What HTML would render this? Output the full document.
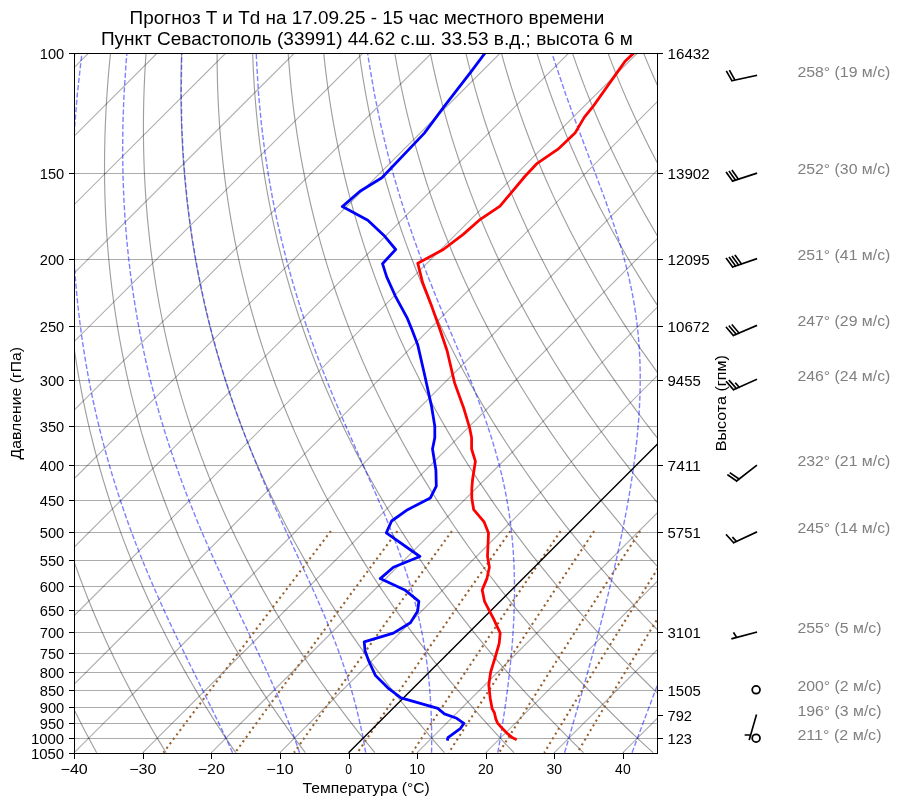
<!DOCTYPE html>
<html lang="ru"><head><meta charset="utf-8"><title>Skew-T</title>
<style>
html,body{margin:0;padding:0;background:#fff;}
body{width:900px;height:806px;overflow:hidden;font-family:"Liberation Sans",sans-serif;}
svg{display:block;font-family:"Liberation Sans",sans-serif;will-change:transform;}
</style></head><body>
<svg width="900" height="806" viewBox="0 0 900 806">
<rect x="0" y="0" width="900" height="806" fill="#fff"/>
<defs><clipPath id="ax"><rect x="74.5" y="53.5" width="583" height="700"/></clipPath></defs>
<g clip-path="url(#ax)">
<path d="M74.20,173.50 H657.20 M74.20,259.50 H657.20 M74.20,326.50 H657.20 M74.20,380.50 H657.20 M74.20,426.50 H657.20 M74.20,465.50 H657.20 M74.20,500.50 H657.20 M74.20,532.50 H657.20 M74.20,560.50 H657.20 M74.20,586.50 H657.20 M74.20,610.50 H657.20 M74.20,632.50 H657.20 M74.20,653.50 H657.20 M74.20,672.50 H657.20 M74.20,690.50 H657.20 M74.20,707.50 H657.20 M74.20,723.50 H657.20 M74.20,738.50 H657.20" stroke="#000" stroke-opacity="0.33" stroke-width="1" fill="none"/>
<path d="M-680.27,752.69 L20.35,52.77 M-611.68,752.69 L88.94,52.77 M-543.09,752.69 L157.53,52.77 M-474.51,752.69 L226.11,52.77 M-405.92,752.69 L294.70,52.77 M-337.33,752.69 L363.29,52.77 M-268.74,752.69 L431.88,52.77 M-200.15,752.69 L500.47,52.77 M-131.56,752.69 L569.06,52.77 M-62.98,752.69 L637.64,52.77 M5.61,752.69 L706.23,52.77 M74.20,752.69 L774.82,52.77 M142.79,752.69 L843.41,52.77 M211.38,752.69 L912.00,52.77 M279.96,752.69 L980.58,52.77 M417.14,752.69 L1117.76,52.77 M485.73,752.69 L1186.35,52.77 M554.32,752.69 L1254.94,52.77 M622.91,752.69 L1323.53,52.77 M691.49,752.69 L1392.11,52.77" stroke="#000" stroke-opacity="0.31" stroke-width="1.15" fill="none"/>
<path d="M96.65,752.69 L90.16,740.83 L83.89,728.96 L77.81,717.10 L71.95,705.24 L66.28,693.37 L60.81,681.51 L55.54,669.65 L50.46,657.79 L45.57,645.92 L40.88,634.06 L36.37,622.20 L32.04,610.33 L27.90,598.47 L23.94,586.61 L20.16,574.74 L16.56,562.88 L13.14,551.02 L9.88,539.16 L6.80,527.29 L3.89,515.43 L1.14,503.57 L-1.44,491.70 L-3.86,479.84 L-6.11,467.98 L-8.21,456.11 L-10.14,444.25 L-11.92,432.39 L-13.55,420.52 L-15.02,408.66 L-16.34,396.80 L-17.51,384.94 L-18.54,373.07 L-19.42,361.21 L-20.15,349.35 L-20.74,337.48 L-21.19,325.62 L-21.50,313.76 L-21.68,301.89 L-21.71,290.03 L-21.61,278.17 L-21.38,266.30 L-21.02,254.44 L-20.52,242.58 L-19.90,230.72 L-19.15,218.85 L-18.27,206.99 L-17.27,195.13 L-16.15,183.26 L-14.90,171.40 L-13.54,159.54 L-12.05,147.67 L-10.45,135.81 L-8.73,123.95 L-6.90,112.09 L-4.95,100.22 L-2.89,88.36 L-0.72,76.50 L1.56,64.63 L3.95,52.77 M166.20,752.69 L158.93,740.83 L151.87,728.96 L145.03,717.10 L138.40,705.24 L131.98,693.37 L125.77,681.51 L119.76,669.65 L113.95,657.79 L108.35,645.92 L102.94,634.06 L97.73,622.20 L92.71,610.33 L87.88,598.47 L83.25,586.61 L78.80,574.74 L74.53,562.88 L70.45,551.02 L66.54,539.16 L62.82,527.29 L59.27,515.43 L55.90,503.57 L52.70,491.70 L49.67,479.84 L46.81,467.98 L44.11,456.11 L41.59,444.25 L39.22,432.39 L37.02,420.52 L34.97,408.66 L33.08,396.80 L31.35,384.94 L29.77,373.07 L28.35,361.21 L27.07,349.35 L25.95,337.48 L24.97,325.62 L24.13,313.76 L23.45,301.89 L22.90,290.03 L22.49,278.17 L22.22,266.30 L22.09,254.44 L22.10,242.58 L22.24,230.72 L22.51,218.85 L22.92,206.99 L23.45,195.13 L24.12,183.26 L24.91,171.40 L25.82,159.54 L26.86,147.67 L28.02,135.81 L29.31,123.95 L30.71,112.09 L32.23,100.22 L33.87,88.36 L35.63,76.50 L37.50,64.63 L39.48,52.77 M235.75,752.69 L227.69,740.83 L219.86,728.96 L212.24,717.10 L204.85,705.24 L197.68,693.37 L190.73,681.51 L183.98,669.65 L177.45,657.79 L171.13,645.92 L165.01,634.06 L159.09,622.20 L153.38,610.33 L147.87,598.47 L142.55,586.61 L137.43,574.74 L132.50,562.88 L127.76,551.02 L123.20,539.16 L118.84,527.29 L114.66,515.43 L110.66,503.57 L106.84,491.70 L103.19,479.84 L99.73,467.98 L96.44,456.11 L93.31,444.25 L90.36,432.39 L87.58,420.52 L84.96,408.66 L82.51,396.80 L80.22,384.94 L78.08,373.07 L76.11,361.21 L74.30,349.35 L72.64,337.48 L71.13,325.62 L69.77,313.76 L68.57,301.89 L67.51,290.03 L66.60,278.17 L65.83,266.30 L65.21,254.44 L64.72,242.58 L64.38,230.72 L64.18,218.85 L64.11,206.99 L64.18,195.13 L64.38,183.26 L64.72,171.40 L65.18,159.54 L65.77,147.67 L66.50,135.81 L67.34,123.95 L68.32,112.09 L69.41,100.22 L70.63,88.36 L71.97,76.50 L73.43,64.63 L75.00,52.77 M305.30,752.69 L296.45,740.83 L287.84,728.96 L279.46,717.10 L271.31,705.24 L263.38,693.37 L255.68,681.51 L248.20,669.65 L240.94,657.79 L233.90,645.92 L227.07,634.06 L220.46,622.20 L214.05,610.33 L207.85,598.47 L201.85,586.61 L196.06,574.74 L190.46,562.88 L185.07,551.02 L179.87,539.16 L174.86,527.29 L170.04,515.43 L165.42,503.57 L160.98,491.70 L156.72,479.84 L152.65,467.98 L148.76,456.11 L145.04,444.25 L141.50,432.39 L138.14,420.52 L134.95,408.66 L131.93,396.80 L129.08,384.94 L126.40,373.07 L123.88,361.21 L121.52,349.35 L119.33,337.48 L117.29,325.62 L115.41,313.76 L113.69,301.89 L112.12,290.03 L110.70,278.17 L109.44,266.30 L108.32,254.44 L107.35,242.58 L106.52,230.72 L105.84,218.85 L105.30,206.99 L104.91,195.13 L104.65,183.26 L104.53,171.40 L104.54,159.54 L104.69,147.67 L104.97,135.81 L105.38,123.95 L105.92,112.09 L106.59,100.22 L107.39,88.36 L108.31,76.50 L109.36,64.63 L110.53,52.77 M374.85,752.69 L365.22,740.83 L355.83,728.96 L346.68,717.10 L337.76,705.24 L329.09,693.37 L320.64,681.51 L312.43,669.65 L304.44,657.79 L296.68,645.92 L289.14,634.06 L281.82,622.20 L274.72,610.33 L267.83,598.47 L261.15,586.61 L254.69,574.74 L248.43,562.88 L242.38,551.02 L236.53,539.16 L230.88,527.29 L225.43,515.43 L220.18,503.57 L215.12,491.70 L210.25,479.84 L205.57,467.98 L201.08,456.11 L196.77,444.25 L192.65,432.39 L188.71,420.52 L184.94,408.66 L181.36,396.80 L177.95,384.94 L174.71,373.07 L171.64,361.21 L168.75,349.35 L166.02,337.48 L163.45,325.62 L161.05,313.76 L158.81,301.89 L156.73,290.03 L154.81,278.17 L153.04,266.30 L151.43,254.44 L149.97,242.58 L148.67,230.72 L147.51,218.85 L146.50,206.99 L145.63,195.13 L144.91,183.26 L144.33,171.40 L143.90,159.54 L143.60,147.67 L143.44,135.81 L143.42,123.95 L143.53,112.09 L143.77,100.22 L144.15,88.36 L144.66,76.50 L145.29,64.63 L146.05,52.77 M444.40,752.69 L433.98,740.83 L423.81,728.96 L413.89,717.10 L404.22,705.24 L394.79,693.37 L385.60,681.51 L376.65,669.65 L367.94,657.79 L359.45,645.92 L351.20,634.06 L343.18,622.20 L335.38,610.33 L327.81,598.47 L320.45,586.61 L313.32,574.74 L306.40,562.88 L299.69,551.02 L293.19,539.16 L286.90,527.29 L280.82,515.43 L274.93,503.57 L269.25,491.70 L263.77,479.84 L258.49,467.98 L253.40,456.11 L248.50,444.25 L243.79,432.39 L239.27,420.52 L234.93,408.66 L230.78,396.80 L226.81,384.94 L223.02,373.07 L219.41,361.21 L215.97,349.35 L212.71,337.48 L209.61,325.62 L206.69,313.76 L203.93,301.89 L201.34,290.03 L198.91,278.17 L196.65,266.30 L194.54,254.44 L192.60,242.58 L190.81,230.72 L189.17,218.85 L187.69,206.99 L186.36,195.13 L185.18,183.26 L184.14,171.40 L183.26,159.54 L182.51,147.67 L181.91,135.81 L181.45,123.95 L181.14,112.09 L180.95,100.22 L180.91,88.36 L181.00,76.50 L181.22,64.63 L181.58,52.77 M513.95,752.69 L502.74,740.83 L491.80,728.96 L481.11,717.10 L470.67,705.24 L460.49,693.37 L450.56,681.51 L440.87,669.65 L431.43,657.79 L422.23,645.92 L413.27,634.06 L404.54,622.20 L396.05,610.33 L387.79,598.47 L379.76,586.61 L371.95,574.74 L364.36,562.88 L357.00,551.02 L349.85,539.16 L342.92,527.29 L336.20,515.43 L329.69,503.57 L323.39,491.70 L317.30,479.84 L311.41,467.98 L305.72,456.11 L300.23,444.25 L294.93,432.39 L289.83,420.52 L284.93,408.66 L280.21,396.80 L275.68,384.94 L271.33,373.07 L267.17,361.21 L263.19,349.35 L259.39,337.48 L255.77,325.62 L252.33,313.76 L249.05,301.89 L245.95,290.03 L243.02,278.17 L240.26,266.30 L237.66,254.44 L235.22,242.58 L232.95,230.72 L230.84,218.85 L228.88,206.99 L227.09,195.13 L225.44,183.26 L223.95,171.40 L222.62,159.54 L221.43,147.67 L220.39,135.81 L219.49,123.95 L218.74,112.09 L218.13,100.22 L217.67,88.36 L217.34,76.50 L217.15,64.63 L217.10,52.77 M583.51,752.69 L571.51,740.83 L559.78,728.96 L548.32,717.10 L537.13,705.24 L526.19,693.37 L515.52,681.51 L505.09,669.65 L494.93,657.79 L485.01,645.92 L475.34,634.06 L465.91,622.20 L456.72,610.33 L447.77,598.47 L439.06,586.61 L430.58,574.74 L422.33,562.88 L414.31,551.02 L406.51,539.16 L398.94,527.29 L391.59,515.43 L384.45,503.57 L377.53,491.70 L370.82,479.84 L364.33,467.98 L358.04,456.11 L351.96,444.25 L346.08,432.39 L340.40,420.52 L334.92,408.66 L329.63,396.80 L324.54,384.94 L319.65,373.07 L314.94,361.21 L310.42,349.35 L306.08,337.48 L301.93,325.62 L297.96,313.76 L294.18,301.89 L290.56,290.03 L287.13,278.17 L283.86,266.30 L280.77,254.44 L277.85,242.58 L275.09,230.72 L272.50,218.85 L270.08,206.99 L267.81,195.13 L265.71,183.26 L263.76,171.40 L261.97,159.54 L260.34,147.67 L258.86,135.81 L257.53,123.95 L256.35,112.09 L255.32,100.22 L254.43,88.36 L253.69,76.50 L253.09,64.63 L252.63,52.77 M653.06,752.69 L640.27,740.83 L627.77,728.96 L615.54,717.10 L603.58,705.24 L591.89,693.37 L580.47,681.51 L569.32,669.65 L558.42,657.79 L547.78,645.92 L537.40,634.06 L527.27,622.20 L517.39,610.33 L507.75,598.47 L498.36,586.61 L489.21,574.74 L480.30,562.88 L471.62,551.02 L463.18,539.16 L454.96,527.29 L446.97,515.43 L439.21,503.57 L431.67,491.70 L424.35,479.84 L417.25,467.98 L410.36,456.11 L403.68,444.25 L397.22,432.39 L390.96,420.52 L384.91,408.66 L379.06,396.80 L373.41,384.94 L367.96,373.07 L362.70,361.21 L357.64,349.35 L352.77,337.48 L348.10,325.62 L343.60,313.76 L339.30,301.89 L335.17,290.03 L331.23,278.17 L327.47,266.30 L323.88,254.44 L320.47,242.58 L317.23,230.72 L314.17,218.85 L311.27,206.99 L308.54,195.13 L305.97,183.26 L303.57,171.40 L301.33,159.54 L299.25,147.67 L297.33,135.81 L295.57,123.95 L293.95,112.09 L292.50,100.22 L291.19,88.36 L290.03,76.50 L289.02,64.63 L288.15,52.77 M722.61,752.69 L709.04,740.83 L695.75,728.96 L682.75,717.10 L670.03,705.24 L657.60,693.37 L645.43,681.51 L633.54,669.65 L621.92,657.79 L610.56,645.92 L599.47,634.06 L588.63,622.20 L578.06,610.33 L567.73,598.47 L557.66,586.61 L547.84,574.74 L538.26,562.88 L528.93,551.02 L519.84,539.16 L510.98,527.29 L502.36,515.43 L493.97,503.57 L485.81,491.70 L477.88,479.84 L470.17,467.98 L462.68,456.11 L455.41,444.25 L448.36,432.39 L441.52,420.52 L434.90,408.66 L428.48,396.80 L422.27,384.94 L416.27,373.07 L410.47,361.21 L404.87,349.35 L399.46,337.48 L394.26,325.62 L389.24,313.76 L384.42,301.89 L379.78,290.03 L375.34,278.17 L371.07,266.30 L367.00,254.44 L363.10,242.58 L359.38,230.72 L355.83,218.85 L352.46,206.99 L349.27,195.13 L346.24,183.26 L343.38,171.40 L340.69,159.54 L338.17,147.67 L335.80,135.81 L333.60,123.95 L331.56,112.09 L329.68,100.22 L327.95,88.36 L326.37,76.50 L324.95,64.63 L323.68,52.77 M792.16,752.69 L777.80,740.83 L763.74,728.96 L749.97,717.10 L736.49,705.24 L723.30,693.37 L710.39,681.51 L697.76,669.65 L685.41,657.79 L673.34,645.92 L661.53,634.06 L650.00,622.20 L638.72,610.33 L627.72,598.47 L616.97,586.61 L606.47,574.74 L596.23,562.88 L586.24,551.02 L576.50,539.16 L567.00,527.29 L557.74,515.43 L548.73,503.57 L539.95,491.70 L531.40,479.84 L523.09,467.98 L515.00,456.11 L507.14,444.25 L499.50,432.39 L492.09,420.52 L484.89,408.66 L477.91,396.80 L471.14,384.94 L464.58,373.07 L458.23,361.21 L452.09,349.35 L446.15,337.48 L440.42,325.62 L434.88,313.76 L429.54,301.89 L424.40,290.03 L419.44,278.17 L414.68,266.30 L410.11,254.44 L405.72,242.58 L401.52,230.72 L397.50,218.85 L393.66,206.99 L389.99,195.13 L386.51,183.26 L383.19,171.40 L380.05,159.54 L377.08,147.67 L374.28,135.81 L371.64,123.95 L369.17,112.09 L366.86,100.22 L364.71,88.36 L362.72,76.50 L360.88,64.63 L359.20,52.77 M861.71,752.69 L846.56,740.83 L831.72,728.96 L817.18,717.10 L802.94,705.24 L789.00,693.37 L775.35,681.51 L761.98,669.65 L748.91,657.79 L736.11,645.92 L723.60,634.06 L711.36,622.20 L699.39,610.33 L687.70,598.47 L676.27,586.61 L665.10,574.74 L654.20,562.88 L643.55,551.02 L633.16,539.16 L623.02,527.29 L613.13,515.43 L603.49,503.57 L594.09,491.70 L584.93,479.84 L576.01,467.98 L567.32,456.11 L558.87,444.25 L550.65,432.39 L542.65,420.52 L534.88,408.66 L527.33,396.80 L520.00,384.94 L512.89,373.07 L506.00,361.21 L499.32,349.35 L492.84,337.48 L486.58,325.62 L480.52,313.76 L474.66,301.89 L469.01,290.03 L463.55,278.17 L458.29,266.30 L453.22,254.44 L448.35,242.58 L443.66,230.72 L439.16,218.85 L434.85,206.99 L430.72,195.13 L426.77,183.26 L423.00,171.40 L419.41,159.54 L415.99,147.67 L412.75,135.81 L409.68,123.95 L406.77,112.09 L404.04,100.22 L401.47,88.36 L399.06,76.50 L396.81,64.63 L394.73,52.77 M931.26,752.69 L915.33,740.83 L899.71,728.96 L884.40,717.10 L869.40,705.24 L854.70,693.37 L840.31,681.51 L826.21,669.65 L812.40,657.79 L798.89,645.92 L785.66,634.06 L772.72,622.20 L760.06,610.33 L747.68,598.47 L735.57,586.61 L723.73,574.74 L712.17,562.88 L700.86,551.02 L689.82,539.16 L679.04,527.29 L668.52,515.43 L658.25,503.57 L648.23,491.70 L638.45,479.84 L628.93,467.98 L619.64,456.11 L610.60,444.25 L601.79,432.39 L593.21,420.52 L584.87,408.66 L576.76,396.80 L568.87,384.94 L561.21,373.07 L553.76,361.21 L546.54,349.35 L539.53,337.48 L532.74,325.62 L526.16,313.76 L519.78,301.89 L513.62,290.03 L507.65,278.17 L501.89,266.30 L496.33,254.44 L490.97,242.58 L485.80,230.72 L480.83,218.85 L476.04,206.99 L471.45,195.13 L467.04,183.26 L462.81,171.40 L458.77,159.54 L454.91,147.67 L451.22,135.81 L447.71,123.95 L444.38,112.09 L441.22,100.22 L438.23,88.36 L435.40,76.50 L432.75,64.63 L430.25,52.77 M1000.81,752.69 L984.09,740.83 L967.69,728.96 L951.61,717.10 L935.85,705.24 L920.40,693.37 L905.26,681.51 L890.43,669.65 L875.90,657.79 L861.67,645.92 L847.73,634.06 L834.08,622.20 L820.73,610.33 L807.66,598.47 L794.87,586.61 L782.36,574.74 L770.13,562.88 L758.17,551.02 L746.48,539.16 L735.06,527.29 L723.90,515.43 L713.00,503.57 L702.36,491.70 L691.98,479.84 L681.85,467.98 L671.96,456.11 L662.32,444.25 L652.93,432.39 L643.78,420.52 L634.86,408.66 L626.18,396.80 L617.74,384.94 L609.52,373.07 L601.53,361.21 L593.76,349.35 L586.22,337.48 L578.90,325.62 L571.80,313.76 L564.91,301.89 L558.23,290.03 L551.76,278.17 L545.50,266.30 L539.45,254.44 L533.59,242.58 L527.94,230.72 L522.49,218.85 L517.23,206.99 L512.17,195.13 L507.30,183.26 L502.62,171.40 L498.13,159.54 L493.82,147.67 L489.69,135.81 L485.75,123.95 L481.99,112.09 L478.40,100.22 L474.99,88.36 L471.75,76.50 L468.68,64.63 L465.78,52.77 M1070.36,752.69 L1052.85,740.83 L1035.68,728.96 L1018.83,717.10 L1002.31,705.24 L986.10,693.37 L970.22,681.51 L954.65,669.65 L939.39,657.79 L924.44,645.92 L909.79,634.06 L895.45,622.20 L881.40,610.33 L867.64,598.47 L854.17,586.61 L840.99,574.74 L828.10,562.88 L815.48,551.02 L803.15,539.16 L791.08,527.29 L779.29,515.43 L767.76,503.57 L756.50,491.70 L745.51,479.84 L734.77,467.98 L724.28,456.11 L714.05,444.25 L704.07,432.39 L694.34,420.52 L684.85,408.66 L675.61,396.80 L666.60,384.94 L657.83,373.07 L649.29,361.21 L640.99,349.35 L632.91,337.48 L625.06,325.62 L617.43,313.76 L610.03,301.89 L602.84,290.03 L595.87,278.17 L589.11,266.30 L582.56,254.44 L576.22,242.58 L570.09,230.72 L564.16,218.85 L558.43,206.99 L552.90,195.13 L547.57,183.26 L542.43,171.40 L537.49,159.54 L532.73,147.67 L528.17,135.81 L523.79,123.95 L519.59,112.09 L515.58,100.22 L511.75,88.36 L508.09,76.50 L504.61,64.63 L501.30,52.77 M1139.91,752.69 L1121.62,740.83 L1103.66,728.96 L1086.04,717.10 L1068.76,705.24 L1051.81,693.37 L1035.18,681.51 L1018.87,669.65 L1002.89,657.79 L987.22,645.92 L971.86,634.06 L956.81,622.20 L942.07,610.33 L927.62,598.47 L913.48,586.61 L899.63,574.74 L886.07,562.88 L872.79,551.02 L859.81,539.16 L847.10,527.29 L834.67,515.43 L822.52,503.57 L810.64,491.70 L799.03,479.84 L787.69,467.98 L776.60,456.11 L765.78,444.25 L755.22,432.39 L744.90,420.52 L734.84,408.66 L725.03,396.80 L715.47,384.94 L706.14,373.07 L697.06,361.21 L688.21,349.35 L679.60,337.48 L671.22,325.62 L663.07,313.76 L655.15,301.89 L647.45,290.03 L639.97,278.17 L632.71,266.30 L625.67,254.44 L618.84,242.58 L612.23,230.72 L605.82,218.85 L599.62,206.99 L593.63,195.13 L587.83,183.26 L582.24,171.40 L576.85,159.54 L571.65,147.67 L566.64,135.81 L561.82,123.95 L557.20,112.09 L552.76,100.22 L548.51,88.36 L544.43,76.50 L540.54,64.63 L536.83,52.77 M1209.46,752.69 L1190.38,740.83 L1171.65,728.96 L1153.26,717.10 L1135.21,705.24 L1117.51,693.37 L1100.14,681.51 L1083.10,669.65 L1066.38,657.79 L1050.00,645.92 L1033.93,634.06 L1018.17,622.20 L1002.73,610.33 L987.60,598.47 L972.78,586.61 L958.26,574.74 L944.03,562.88 L930.10,551.02 L916.47,539.16 L903.12,527.29 L890.06,515.43 L877.28,503.57 L864.78,491.70 L852.56,479.84 L840.61,467.98 L828.92,456.11 L817.51,444.25 L806.36,432.39 L795.47,420.52 L784.84,408.66 L774.46,396.80 L764.33,384.94 L754.46,373.07 L744.82,361.21 L735.44,349.35 L726.29,337.48 L717.38,325.62 L708.71,313.76 L700.27,301.89 L692.06,290.03 L684.08,278.17 L676.32,266.30 L668.78,254.44 L661.47,242.58 L654.37,230.72 L647.49,218.85 L640.81,206.99 L634.35,195.13 L628.10,183.26 L622.05,171.40 L616.20,159.54 L610.56,147.67 L605.11,135.81 L599.86,123.95 L594.81,112.09 L589.94,100.22 L585.26,88.36 L580.78,76.50 L576.47,64.63 L572.35,52.77 M1279.02,752.69 L1259.14,740.83 L1239.63,728.96 L1220.47,717.10 L1201.67,705.24 L1183.21,693.37 L1165.09,681.51 L1147.32,669.65 L1129.88,657.79 L1112.77,645.92 L1095.99,634.06 L1079.54,622.20 L1063.40,610.33 L1047.58,598.47 L1032.08,586.61 L1016.89,574.74 L1002.00,562.88 L987.42,551.02 L973.13,539.16 L959.14,527.29 L945.45,515.43 L932.04,503.57 L918.92,491.70 L906.08,479.84 L893.53,467.98 L881.24,456.11 L869.24,444.25 L857.50,432.39 L846.03,420.52 L834.83,408.66 L823.88,396.80 L813.20,384.94 L802.77,373.07 L792.59,361.21 L782.66,349.35 L772.98,337.48 L763.54,325.62 L754.35,313.76 L745.39,301.89 L736.67,290.03 L728.18,278.17 L719.93,266.30 L711.90,254.44 L704.09,242.58 L696.51,230.72 L689.15,218.85 L682.01,206.99 L675.08,195.13 L668.36,183.26 L661.86,171.40 L655.56,159.54 L649.47,147.67 L643.59,135.81 L637.90,123.95 L632.41,112.09 L627.12,100.22 L622.02,88.36 L617.12,76.50 L612.41,64.63 L607.88,52.77 M1348.57,752.69 L1327.91,740.83 L1307.62,728.96 L1287.69,717.10 L1268.12,705.24 L1248.91,693.37 L1230.05,681.51 L1211.54,669.65 L1193.37,657.79 L1175.55,645.92 L1158.06,634.06 L1140.90,622.20 L1124.07,610.33 L1107.57,598.47 L1091.38,586.61 L1075.52,574.74 L1059.97,562.88 L1044.73,551.02 L1029.79,539.16 L1015.16,527.29 L1000.83,515.43 L986.80,503.57 L973.06,491.70 L959.61,479.84 L946.45,467.98 L933.57,456.11 L920.97,444.25 L908.64,432.39 L896.60,420.52 L884.82,408.66 L873.31,396.80 L862.06,384.94 L851.08,373.07 L840.35,361.21 L829.89,349.35 L819.67,337.48 L809.71,325.62 L799.99,313.76 L790.51,301.89 L781.28,290.03 L772.29,278.17 L763.53,266.30 L755.01,254.44 L746.72,242.58 L738.65,230.72 L730.81,218.85 L723.20,206.99 L715.81,195.13 L708.63,183.26 L701.67,171.40 L694.92,159.54 L688.39,147.67 L682.06,135.81 L675.94,123.95 L670.02,112.09 L664.30,100.22 L658.78,88.36 L653.46,76.50 L648.34,64.63 L643.40,52.77 M1418.12,752.69 L1396.67,740.83 L1375.60,728.96 L1354.90,717.10 L1334.58,705.24 L1314.61,693.37 L1295.01,681.51 L1275.76,669.65 L1256.87,657.79 L1238.32,645.92 L1220.12,634.06 L1202.26,622.20 L1184.74,610.33 L1167.55,598.47 L1150.69,586.61 L1134.15,574.74 L1117.93,562.88 L1102.04,551.02 L1086.45,539.16 L1071.18,527.29 L1056.22,515.43 L1041.56,503.57 L1027.20,491.70 L1013.13,479.84 L999.36,467.98 L985.89,456.11 L972.69,444.25 L959.79,432.39 L947.16,420.52 L934.81,408.66 L922.73,396.80 L910.93,384.94 L899.39,373.07 L888.12,361.21 L877.11,349.35 L866.36,337.48 L855.87,325.62 L845.63,313.76 L835.64,301.89 L825.89,290.03 L816.39,278.17 L807.14,266.30 L798.12,254.44 L789.34,242.58 L780.79,230.72 L772.48,218.85 L764.39,206.99 L756.53,195.13 L748.89,183.26 L741.48,171.40 L734.28,159.54 L727.30,147.67 L720.53,135.81 L713.97,123.95 L707.62,112.09 L701.48,100.22 L695.54,88.36 L689.81,76.50 L684.27,64.63 L678.93,52.77 M1487.67,752.69 L1465.43,740.83 L1443.59,728.96 L1422.12,717.10 L1401.03,705.24 L1380.32,693.37 L1359.97,681.51 L1339.99,669.65 L1320.37,657.79 L1301.10,645.92 L1282.19,634.06 L1263.63,622.20 L1245.41,610.33 L1227.53,598.47 L1209.99,586.61 L1192.78,574.74 L1175.90,562.88 L1159.35,551.02 L1143.12,539.16 L1127.20,527.29 L1111.60,515.43 L1096.32,503.57 L1081.34,491.70 L1066.66,479.84 L1052.28,467.98 L1038.21,456.11 L1024.42,444.25 L1010.93,432.39 L997.72,420.52 L984.80,408.66 L972.16,396.80 L959.79,384.94 L947.70,373.07 L935.89,361.21 L924.34,349.35 L913.05,337.48 L902.03,325.62 L891.26,313.76 L880.76,301.89 L870.50,290.03 L860.50,278.17 L850.74,266.30 L841.23,254.44 L831.97,242.58 L822.94,230.72 L814.14,218.85 L805.59,206.99 L797.26,195.13 L789.16,183.26 L781.29,171.40 L773.64,159.54 L766.21,147.67 L759.00,135.81 L752.01,123.95 L745.23,112.09 L738.66,100.22 L732.30,88.36 L726.15,76.50 L720.20,64.63 L714.45,52.77 M1557.22,752.69 L1534.20,740.83 L1511.57,728.96 L1489.34,717.10 L1467.49,705.24 L1446.02,693.37 L1424.93,681.51 L1404.21,669.65 L1383.86,657.79 L1363.88,645.92 L1344.25,634.06 L1324.99,622.20 L1306.07,610.33 L1287.51,598.47 L1269.29,586.61 L1251.41,574.74 L1233.87,562.88 L1216.66,551.02 L1199.78,539.16 L1183.22,527.29 L1166.99,515.43 L1151.07,503.57 L1135.47,491.70 L1120.19,479.84 L1105.20,467.98 L1090.53,456.11 L1076.15,444.25 L1062.07,432.39 L1048.29,420.52 L1034.79,408.66 L1021.58,396.80 L1008.66,384.94 L996.02,373.07 L983.65,361.21 L971.56,349.35 L959.74,337.48 L948.19,325.62 L936.90,313.76 L925.88,301.89 L915.11,290.03 L904.61,278.17 L894.35,266.30 L884.35,254.44 L874.59,242.58 L865.08,230.72 L855.81,218.85 L846.78,206.99 L837.99,195.13 L829.43,183.26 L821.10,171.40 L813.00,159.54 L805.13,147.67 L797.48,135.81 L790.05,123.95 L782.84,112.09 L775.84,100.22 L769.06,88.36 L762.49,76.50 L756.13,64.63 L749.98,52.77 M1626.77,752.69 L1602.96,740.83 L1579.56,728.96 L1556.55,717.10 L1533.94,705.24 L1511.72,693.37 L1489.88,681.51 L1468.43,669.65 L1447.36,657.79 L1426.65,645.92 L1406.32,634.06 L1386.35,622.20 L1366.74,610.33 L1347.49,598.47 L1328.59,586.61 L1310.04,574.74 L1291.83,562.88 L1273.97,551.02 L1256.44,539.16 L1239.24,527.29 L1222.38,515.43 L1205.83,503.57 L1189.61,491.70 L1173.71,479.84 L1158.12,467.98 L1142.85,456.11 L1127.88,444.25 L1113.21,432.39 L1098.85,420.52 L1084.78,408.66 L1071.01,396.80 L1057.52,384.94 L1044.33,373.07 L1031.42,361.21 L1018.78,349.35 L1006.43,337.48 L994.35,325.62 L982.54,313.76 L971.00,301.89 L959.72,290.03 L948.71,278.17 L937.96,266.30 L927.46,254.44 L917.21,242.58 L907.22,230.72 L897.47,218.85 L887.97,206.99 L878.71,195.13 L869.69,183.26 L860.91,171.40 L852.36,159.54 L844.04,147.67 L835.95,135.81 L828.08,123.95 L820.44,112.09 L813.02,100.22 L805.82,88.36 L798.84,76.50 L792.07,64.63 L785.51,52.77 M1696.32,752.69 L1671.73,740.83 L1647.54,728.96 L1623.77,717.10 L1600.39,705.24 L1577.42,693.37 L1554.84,681.51 L1532.65,669.65 L1510.85,657.79 L1489.43,645.92 L1468.39,634.06 L1447.71,622.20 L1427.41,610.33 L1407.47,598.47 L1387.89,586.61 L1368.67,574.74 L1349.80,562.88 L1331.28,551.02 L1313.10,539.16 L1295.26,527.29 L1277.76,515.43 L1260.59,503.57 L1243.75,491.70 L1227.24,479.84 L1211.04,467.98 L1195.17,456.11 L1179.61,444.25 L1164.36,432.39 L1149.41,420.52 L1134.77,408.66 L1120.43,396.80 L1106.39,384.94 L1092.64,373.07 L1079.18,361.21 L1066.01,349.35 L1053.12,337.48 L1040.51,325.62 L1028.18,313.76 L1016.12,301.89 L1004.34,290.03 L992.82,278.17 L981.56,266.30 L970.57,254.44 L959.84,242.58 L949.36,230.72 L939.14,218.85 L929.16,206.99 L919.44,195.13 L909.96,183.26 L900.72,171.40 L891.72,159.54 L882.95,147.67 L874.42,135.81 L866.12,123.95 L858.05,112.09 L850.20,100.22 L842.58,88.36 L835.18,76.50 L828.00,64.63 L821.03,52.77 M1765.87,752.69 L1740.49,740.83 L1715.53,728.96 L1690.98,717.10 L1666.85,705.24 L1643.12,693.37 L1619.80,681.51 L1596.88,669.65 L1574.35,657.79 L1552.21,645.92 L1530.45,634.06 L1509.08,622.20 L1488.08,610.33 L1467.45,598.47 L1447.20,586.61 L1427.30,574.74 L1407.77,562.88 L1388.59,551.02 L1369.76,539.16 L1351.28,527.29 L1333.15,515.43 L1315.35,503.57 L1297.89,491.70 L1280.76,479.84 L1263.96,467.98 L1247.49,456.11 L1231.34,444.25 L1215.50,432.39 L1199.98,420.52 L1184.76,408.66 L1169.86,396.80 L1155.26,384.94 L1140.95,373.07 L1126.95,361.21 L1113.23,349.35 L1099.81,337.48 L1086.67,325.62 L1073.82,313.76 L1061.24,301.89 L1048.95,290.03 L1036.92,278.17 L1025.17,266.30 L1013.68,254.44 L1002.46,242.58 L991.50,230.72 L980.80,218.85 L970.36,206.99 L960.16,195.13 L950.22,183.26 L940.53,171.40 L931.07,159.54 L921.86,147.67 L912.89,135.81 L904.16,123.95 L895.66,112.09 L887.39,100.22 L879.34,88.36 L871.52,76.50 L863.93,64.63 L856.56,52.77 M1835.42,752.69 L1809.25,740.83 L1783.51,728.96 L1758.20,717.10 L1733.30,705.24 L1708.82,693.37 L1684.76,681.51 L1661.10,669.65 L1637.84,657.79 L1614.98,645.92 L1592.52,634.06 L1570.44,622.20 L1548.75,610.33 L1527.43,598.47 L1506.50,586.61 L1485.93,574.74 L1465.73,562.88 L1445.90,551.02 L1426.42,539.16 L1407.30,527.29 L1388.53,515.43 L1370.11,503.57 L1352.03,491.70 L1334.29,479.84 L1316.88,467.98 L1299.81,456.11 L1283.06,444.25 L1266.64,432.39 L1250.54,420.52 L1234.75,408.66 L1219.28,396.80 L1204.12,384.94 L1189.26,373.07 L1174.71,361.21 L1160.46,349.35 L1146.50,337.48 L1132.83,325.62 L1119.46,313.76 L1106.37,301.89 L1093.56,290.03 L1081.03,278.17 L1068.78,266.30 L1056.80,254.44 L1045.09,242.58 L1033.65,230.72 L1022.47,218.85 L1011.55,206.99 L1000.89,195.13 L990.49,183.26 L980.34,171.40 L970.43,159.54 L960.78,147.67 L951.37,135.81 L942.20,123.95 L933.26,112.09 L924.57,100.22 L916.10,88.36 L907.87,76.50 L899.86,64.63 L892.08,52.77 M1904.98,752.69 L1878.02,740.83 L1851.50,728.96 L1825.41,717.10 L1799.76,705.24 L1774.53,693.37 L1749.72,681.51 L1725.32,669.65 L1701.34,657.79 L1677.76,645.92 L1654.58,634.06 L1631.80,622.20 L1609.42,610.33 L1587.42,598.47 L1565.80,586.61 L1544.56,574.74 L1523.70,562.88 L1503.21,551.02 L1483.09,539.16 L1463.32,527.29 L1443.92,515.43 L1424.87,503.57 L1406.17,491.70 L1387.82,479.84 L1369.80,467.98 L1352.13,456.11 L1334.79,444.25 L1317.78,432.39 L1301.10,420.52 L1284.75,408.66 L1268.71,396.80 L1252.99,384.94 L1237.58,373.07 L1222.48,361.21 L1207.68,349.35 L1193.19,337.48 L1178.99,325.62 L1165.09,313.76 L1151.49,301.89 L1138.17,290.03 L1125.13,278.17 L1112.38,266.30 L1099.91,254.44 L1087.71,242.58 L1075.79,230.72 L1064.13,218.85 L1052.74,206.99 L1041.62,195.13 L1030.75,183.26 L1020.15,171.40 L1009.79,159.54 L999.69,147.67 L989.84,135.81 L980.23,123.95 L970.87,112.09 L961.75,100.22 L952.86,88.36 L944.21,76.50 L935.79,64.63 L927.61,52.77 M1974.53,752.69 L1946.78,740.83 L1919.48,728.96 L1892.63,717.10 L1866.21,705.24 L1840.23,693.37 L1814.67,681.51 L1789.54,669.65 L1764.83,657.79 L1740.54,645.92 L1716.65,634.06 L1693.17,622.20 L1670.08,610.33 L1647.40,598.47 L1625.10,586.61 L1603.19,574.74 L1581.67,562.88 L1560.52,551.02 L1539.75,539.16 L1519.34,527.29 L1499.30,515.43 L1479.63,503.57 L1460.31,491.70 L1441.34,479.84 L1422.72,467.98 L1404.45,456.11 L1386.52,444.25 L1368.93,432.39 L1351.67,420.52 L1334.74,408.66 L1318.13,396.80 L1301.85,384.94 L1285.89,373.07 L1270.24,361.21 L1254.91,349.35 L1239.88,337.48 L1225.15,325.62 L1210.73,313.76 L1196.61,301.89 L1182.78,290.03 L1169.24,278.17 L1155.99,266.30 L1143.02,254.44 L1130.34,242.58 L1117.93,230.72 L1105.80,218.85 L1093.94,206.99 L1082.34,195.13 L1071.02,183.26 L1059.96,171.40 L1049.15,159.54 L1038.60,147.67 L1028.31,135.81 L1018.27,123.95 L1008.48,112.09 L998.93,100.22 L989.62,88.36 L980.55,76.50 L971.73,64.63 L963.13,52.77 M2044.08,752.69 L2015.54,740.83 L1987.47,728.96 L1959.84,717.10 L1932.67,705.24 L1905.93,693.37 L1879.63,681.51 L1853.77,669.65 L1828.33,657.79 L1803.31,645.92 L1778.71,634.06 L1754.53,622.20 L1730.75,610.33 L1707.38,598.47 L1684.40,586.61 L1661.82,574.74 L1639.64,562.88 L1617.83,551.02 L1596.41,539.16 L1575.36,527.29 L1554.69,515.43 L1534.39,503.57 L1514.45,491.70 L1494.87,479.84 L1475.64,467.98 L1456.77,456.11 L1438.25,444.25 L1420.07,432.39 L1402.23,420.52 L1384.73,408.66 L1367.56,396.80 L1350.72,384.94 L1334.20,373.07 L1318.01,361.21 L1302.13,349.35 L1286.57,337.48 L1271.32,325.62 L1256.37,313.76 L1241.73,301.89 L1227.39,290.03 L1213.35,278.17 L1199.59,266.30 L1186.13,254.44 L1172.96,242.58 L1160.07,230.72 L1147.46,218.85 L1135.13,206.99 L1123.07,195.13 L1111.28,183.26 L1099.76,171.40 L1088.51,159.54 L1077.52,147.67 L1066.78,135.81 L1056.31,123.95 L1046.08,112.09 L1036.11,100.22 L1026.38,88.36 L1016.90,76.50 L1007.66,64.63 L998.66,52.77" stroke="#000" stroke-opacity="0.38" stroke-width="1.15" fill="none"/>
<path d="M232.60,752.69 L229.85,746.66 L227.01,740.51 L224.86,735.92 L223.15,732.30 L221.40,728.62 L219.62,724.91 L217.81,721.14 L215.97,717.33 L214.09,713.47 L212.18,709.55 L210.23,705.59 L208.26,701.57 L206.25,697.50 L204.21,693.36 L202.14,689.18 L200.04,684.93 L197.90,680.62 L195.74,676.25 L193.54,671.81 L191.32,667.30 L189.07,662.73 L186.79,658.08 L184.48,653.36 L182.15,648.57 L179.79,643.69 L177.41,638.74 L175.00,633.70 L172.57,628.57 L170.11,623.35 L167.64,618.05 L165.14,612.64 L162.63,607.13 L160.09,601.53 L157.54,595.81 L154.97,589.98 L152.39,584.03 L149.79,577.97 L147.18,571.78 L144.56,565.45 L141.93,558.99 L139.29,552.39 L136.64,545.63 L133.99,538.72 L131.33,531.64 L128.68,524.39 L126.02,516.97 L123.36,509.35 L120.70,501.53 L118.06,493.50 L115.42,485.24 L112.79,476.76 L110.18,468.02 L107.58,459.02 L105.01,449.73 L102.46,440.15 L99.94,430.25 L97.46,420.01 L95.02,409.41 L92.63,398.41 L90.29,386.99 L88.02,375.11 L85.83,362.74 L83.73,349.84 L81.72,336.35 L79.84,322.22 L78.09,307.38 L76.51,291.77 L75.11,275.29 L73.94,257.85 L73.03,239.32 L72.44,219.56 L72.24,198.39 L72.50,175.61 L73.33,150.93 L74.87,124.02 L77.31,94.44 L80.92,61.58 L82.04,52.77 M299.52,752.69 L297.49,746.66 L295.34,740.51 L293.69,735.92 L292.36,732.30 L290.98,728.62 L289.57,724.91 L288.11,721.14 L286.60,717.33 L285.06,713.47 L283.47,709.55 L281.83,705.59 L280.14,701.57 L278.41,697.50 L276.63,693.36 L274.80,689.18 L272.93,684.93 L271.00,680.62 L269.03,676.25 L267.01,671.81 L264.93,667.30 L262.81,662.73 L260.64,658.08 L258.42,653.36 L256.15,648.57 L253.83,643.69 L251.47,638.74 L249.05,633.70 L246.59,628.57 L244.08,623.35 L241.53,618.05 L238.94,612.64 L236.30,607.13 L233.61,601.53 L230.89,595.81 L228.13,589.98 L225.33,584.03 L222.49,577.97 L219.62,571.78 L216.72,565.45 L213.78,558.99 L210.82,552.39 L207.82,545.63 L204.81,538.72 L201.76,531.64 L198.70,524.39 L195.62,516.97 L192.52,509.35 L189.41,501.53 L186.28,493.50 L183.15,485.24 L180.01,476.76 L176.87,468.02 L173.72,459.02 L170.59,449.73 L167.46,440.15 L164.34,430.25 L161.24,420.01 L158.17,409.41 L155.12,398.41 L152.11,386.99 L149.15,375.11 L146.24,362.74 L143.39,349.84 L140.62,336.35 L137.94,322.22 L135.38,307.38 L132.94,291.77 L130.66,275.29 L128.57,257.85 L126.70,239.32 L125.10,219.56 L123.84,198.39 L122.98,175.61 L122.63,150.93 L122.91,124.02 L124.01,94.44 L126.17,61.58 L126.91,52.77 M365.66,752.69 L364.65,746.66 L363.53,740.51 L362.65,735.92 L361.93,732.30 L361.17,728.62 L360.37,724.91 L359.53,721.14 L358.64,717.33 L357.72,713.47 L356.75,709.55 L355.74,705.59 L354.68,701.57 L353.57,697.50 L352.40,693.36 L351.19,689.18 L349.92,684.93 L348.59,680.62 L347.21,676.25 L345.76,671.81 L344.25,667.30 L342.68,662.73 L341.05,658.08 L339.34,653.36 L337.57,648.57 L335.72,643.69 L333.81,638.74 L331.82,633.70 L329.75,628.57 L327.61,623.35 L325.39,618.05 L323.10,612.64 L320.72,607.13 L318.27,601.53 L315.74,595.81 L313.13,589.98 L310.44,584.03 L307.67,577.97 L304.83,571.78 L301.91,565.45 L298.92,558.99 L295.85,552.39 L292.71,545.63 L289.50,538.72 L286.23,531.64 L282.89,524.39 L279.50,516.97 L276.04,509.35 L272.54,501.53 L268.98,493.50 L265.37,485.24 L261.73,476.76 L258.04,468.02 L254.32,459.02 L250.57,449.73 L246.80,440.15 L243.01,430.25 L239.20,420.01 L235.39,409.41 L231.58,398.41 L227.77,386.99 L223.97,375.11 L220.20,362.74 L216.46,349.84 L212.76,336.35 L209.12,322.22 L205.56,307.38 L202.08,291.77 L198.72,275.29 L195.50,257.85 L192.45,239.32 L189.62,219.56 L187.06,198.39 L184.83,175.61 L183.04,150.93 L181.78,124.02 L181.23,94.44 L181.61,61.58 L181.88,52.77 M431.56,752.69 L431.65,746.66 L431.68,740.51 L431.67,735.92 L431.64,732.30 L431.59,728.62 L431.52,724.91 L431.43,721.14 L431.31,717.33 L431.17,713.47 L431.00,709.55 L430.80,705.59 L430.58,701.57 L430.32,697.50 L430.03,693.36 L429.70,689.18 L429.33,684.93 L428.93,680.62 L428.49,676.25 L428.00,671.81 L427.46,667.30 L426.88,662.73 L426.24,658.08 L425.55,653.36 L424.80,648.57 L423.98,643.69 L423.11,638.74 L422.16,633.70 L421.14,628.57 L420.05,623.35 L418.87,618.05 L417.62,612.64 L416.27,607.13 L414.83,601.53 L413.29,595.81 L411.64,589.98 L409.90,584.03 L408.04,577.97 L406.06,571.78 L403.96,565.45 L401.74,558.99 L399.39,552.39 L396.90,545.63 L394.29,538.72 L391.53,531.64 L388.63,524.39 L385.59,516.97 L382.41,509.35 L379.08,501.53 L375.62,493.50 L372.01,485.24 L368.27,476.76 L364.39,468.02 L360.39,459.02 L356.26,449.73 L352.02,440.15 L347.67,430.25 L343.22,420.01 L338.68,409.41 L334.06,398.41 L329.36,386.99 L324.61,375.11 L319.80,362.74 L314.96,349.84 L310.09,336.35 L305.22,322.22 L300.35,307.38 L295.51,291.77 L290.71,275.29 L285.98,257.85 L281.35,239.32 L276.86,219.56 L272.55,198.39 L268.48,175.61 L264.73,150.93 L261.39,124.02 L258.61,94.44 L256.58,61.58 L256.23,52.77 M497.78,752.69 L498.83,746.66 L499.88,740.51 L500.64,735.92 L501.23,732.30 L501.83,728.62 L502.41,724.91 L503.00,721.14 L503.58,717.33 L504.16,713.47 L504.74,709.55 L505.31,705.59 L505.87,701.57 L506.43,697.50 L506.98,693.36 L507.52,689.18 L508.05,684.93 L508.57,680.62 L509.08,676.25 L509.58,671.81 L510.07,667.30 L510.54,662.73 L511.00,658.08 L511.43,653.36 L511.85,648.57 L512.25,643.69 L512.62,638.74 L512.97,633.70 L513.29,628.57 L513.58,623.35 L513.83,618.05 L514.05,612.64 L514.23,607.13 L514.37,601.53 L514.46,595.81 L514.49,589.98 L514.47,584.03 L514.39,577.97 L514.23,571.78 L514.00,565.45 L513.69,558.99 L513.30,552.39 L512.80,545.63 L512.19,538.72 L511.47,531.64 L510.63,524.39 L509.64,516.97 L508.50,509.35 L507.20,501.53 L505.71,493.50 L504.04,485.24 L502.15,476.76 L500.04,468.02 L497.69,459.02 L495.08,449.73 L492.20,440.15 L489.03,430.25 L485.55,420.01 L481.77,409.41 L477.67,398.41 L473.25,386.99 L468.51,375.11 L463.45,362.74 L458.09,349.84 L452.45,336.35 L446.54,322.22 L440.39,307.38 L434.03,291.77 L427.50,275.29 L420.84,257.85 L414.07,239.32 L407.26,219.56 L400.44,198.39 L393.68,175.61 L387.03,150.93 L380.60,124.02 L374.50,94.44 L368.88,61.58 L367.58,52.77 M564.59,752.69 L566.37,746.66 L568.17,740.51 L569.51,735.92 L570.57,732.30 L571.64,728.62 L572.72,724.91 L573.81,721.14 L574.91,717.33 L576.02,713.47 L577.14,709.55 L578.28,705.59 L579.42,701.57 L580.58,697.50 L581.75,693.36 L582.94,689.18 L584.13,684.93 L585.34,680.62 L586.56,676.25 L587.79,671.81 L589.04,667.30 L590.29,662.73 L591.56,658.08 L592.85,653.36 L594.14,648.57 L595.45,643.69 L596.77,638.74 L598.10,633.70 L599.45,628.57 L600.81,623.35 L602.18,618.05 L603.56,612.64 L604.95,607.13 L606.36,601.53 L607.77,595.81 L609.20,589.98 L610.63,584.03 L612.08,577.97 L613.53,571.78 L614.98,565.45 L616.45,558.99 L617.91,552.39 L619.38,545.63 L620.85,538.72 L622.31,531.64 L623.76,524.39 L625.21,516.97 L626.65,509.35 L628.06,501.53 L629.45,493.50 L630.81,485.24 L632.13,476.76 L633.41,468.02 L634.63,459.02 L635.78,449.73 L636.84,440.15 L637.80,430.25 L638.64,420.01 L639.34,409.41 L639.85,398.41 L640.16,386.99 L640.22,375.11 L639.98,362.74 L639.39,349.84 L638.37,336.35 L636.86,322.22 L634.77,307.38 L631.99,291.77 L628.43,275.29 L623.99,257.85 L618.58,239.32 L612.14,219.56 L604.65,198.39 L596.13,175.61 L586.70,150.93 L576.50,124.02 L565.74,94.44 L554.66,61.58 L551.87,52.77 M632.02,752.69 L634.27,746.66 L636.57,740.51 L638.28,735.92 L639.64,732.30 L641.02,728.62 L642.41,724.91 L643.82,721.14 L645.26,717.33 L646.71,713.47 L648.18,709.55 L649.67,705.59 L651.19,701.57 L652.72,697.50 L654.28,693.36 L655.86,689.18 L657.47,684.93 L659.10,680.62 L660.75,676.25 L662.44,671.81 L664.14,667.30 L665.88,662.73 L667.64,658.08 L669.43,653.36 L671.25,648.57 L673.10,643.69 L674.98,638.74 L676.90,633.70 L678.85,628.57 L680.83,623.35 L682.85,618.05 L684.90,612.64 L687.00,607.13 L689.13,601.53 L691.30,595.81 L693.52,589.98 L695.78,584.03 L698.08,577.97 L700.44,571.78 L702.84,565.45 L705.29,558.99 L707.79,552.39 L710.35,545.63 L712.96,538.72 L715.63,531.64 L718.36,524.39 L721.16,516.97 L724.02,509.35 L726.95,501.53 L729.95,493.50 L733.03,485.24 L736.18,476.76 L739.42,468.02 L742.74,459.02 L746.15,449.73 L749.65,440.15 L753.24,430.25 L756.94,420.01 L760.74,409.41 L764.65,398.41 L768.66,386.99 L772.80,375.11 L777.05,362.74 L781.43,349.84 L785.93,336.35 L790.55,322.22 L795.29,307.38 L800.15,291.77 L805.11,275.29 L810.15,257.85 L815.25,239.32 L820.35,219.56 L825.38,198.39 L830.21,175.61 L834.67,150.93 L838.44,124.02 L841.07,94.44 L841.80,61.58 L841.56,52.77" stroke="#00f" stroke-opacity="0.5" stroke-width="1.39" stroke-dasharray="5.14 2.22" fill="none"/>
<path d="M330.88,531.09 L322.37,542.23 L314.17,552.96 L306.27,563.32 L298.65,573.33 L291.28,583.01 L284.15,592.39 L277.24,601.49 L270.55,610.31 L264.05,618.88 L257.74,627.21 L251.61,635.31 L245.64,643.20 L239.84,650.89 L234.18,658.38 L228.67,665.68 L223.29,672.82 L218.05,679.78 L212.92,686.59 L207.92,693.24 L203.03,699.75 L198.25,706.12 L193.57,712.35 L188.99,718.46 L184.50,724.45 L180.11,730.31 L175.80,736.07 L171.58,741.71 L167.44,747.25 L163.37,752.69 M397.37,531.09 L389.11,542.23 L381.16,552.96 L373.49,563.32 L366.09,573.33 L358.94,583.01 L352.02,592.39 L345.33,601.49 L338.83,610.31 L332.53,618.88 L326.42,627.21 L320.47,635.31 L314.69,643.20 L309.07,650.89 L303.59,658.38 L298.25,665.68 L293.04,672.82 L287.97,679.78 L283.01,686.59 L278.16,693.24 L273.43,699.75 L268.80,706.12 L264.27,712.35 L259.84,718.46 L255.50,724.45 L251.25,730.31 L247.08,736.07 L243.00,741.71 L239.00,747.25 L235.07,752.69 M451.86,531.09 L443.81,542.23 L436.06,552.96 L428.59,563.32 L421.38,573.33 L414.42,583.01 L407.69,592.39 L401.17,601.49 L394.85,610.31 L388.72,618.88 L382.77,627.21 L376.99,635.31 L371.36,643.20 L365.89,650.89 L360.56,658.38 L355.37,665.68 L350.31,672.82 L345.38,679.78 L340.56,686.59 L335.85,693.24 L331.25,699.75 L326.75,706.12 L322.35,712.35 L318.05,718.46 L313.83,724.45 L309.71,730.31 L305.66,736.07 L301.70,741.71 L297.81,747.25 L294.00,752.69 M510.31,531.09 L502.50,542.23 L494.98,552.96 L487.73,563.32 L480.74,573.33 L473.99,583.01 L467.46,592.39 L461.13,601.49 L455.01,610.31 L449.07,618.88 L443.30,627.21 L437.70,635.31 L432.25,643.20 L426.96,650.89 L421.80,658.38 L416.77,665.68 L411.87,672.82 L407.09,679.78 L402.43,686.59 L397.87,693.24 L393.42,699.75 L389.07,706.12 L384.82,712.35 L380.66,718.46 L376.58,724.45 L372.60,730.31 L368.69,736.07 L364.86,741.71 L361.10,747.25 L357.42,752.69 M560.62,531.09 L553.01,542.23 L545.69,552.96 L538.64,563.32 L531.84,573.33 L525.28,583.01 L518.93,592.39 L512.78,601.49 L506.83,610.31 L501.06,618.88 L495.46,627.21 L490.01,635.31 L484.73,643.20 L479.58,650.89 L474.57,658.38 L469.69,665.68 L464.94,672.82 L460.30,679.78 L455.78,686.59 L451.36,693.24 L447.04,699.75 L442.83,706.12 L438.70,712.35 L434.67,718.46 L430.72,724.45 L426.85,730.31 L423.06,736.07 L419.35,741.71 L415.71,747.25 L412.15,752.69 M594.18,531.09 L586.72,542.23 L579.54,552.96 L572.63,563.32 L565.96,573.33 L559.52,583.01 L553.30,592.39 L547.27,601.49 L541.44,610.31 L535.78,618.88 L530.29,627.21 L524.96,635.31 L519.78,643.20 L514.74,650.89 L509.83,658.38 L505.06,665.68 L500.40,672.82 L495.86,679.78 L491.43,686.59 L487.11,693.24 L482.88,699.75 L478.75,706.12 L474.72,712.35 L470.77,718.46 L466.91,724.45 L463.13,730.31 L459.42,736.07 L455.79,741.71 L452.23,747.25 L448.75,752.69 M640.22,531.09 L632.96,542.23 L625.97,552.96 L619.25,563.32 L612.76,573.33 L606.50,583.01 L600.45,592.39 L594.60,601.49 L588.93,610.31 L583.44,618.88 L578.11,627.21 L572.93,635.31 L567.90,643.20 L563.01,650.89 L558.25,658.38 L553.61,665.68 L549.10,672.82 L544.69,679.78 L540.40,686.59 L536.21,693.24 L532.11,699.75 L528.11,706.12 L524.20,712.35 L520.37,718.46 L516.63,724.45 L512.97,730.31 L509.38,736.07 L505.87,741.71 L502.42,747.25 L499.05,752.69 M681.53,531.09 L674.45,542.23 L667.65,552.96 L661.10,563.32 L654.78,573.33 L648.69,583.01 L642.80,592.39 L637.10,601.49 L631.58,610.31 L626.24,618.88 L621.05,627.21 L616.02,635.31 L611.13,643.20 L606.37,650.89 L601.75,658.38 L597.24,665.68 L592.86,672.82 L588.58,679.78 L584.41,686.59 L580.34,693.24 L576.36,699.75 L572.48,706.12 L568.68,712.35 L564.97,718.46 L561.34,724.45 L557.78,730.31 L554.31,736.07 L550.90,741.71 L547.56,747.25 L544.28,752.69 M711.66,531.09 L704.72,542.23 L698.05,552.96 L691.63,563.32 L685.44,573.33 L679.47,583.01 L673.70,592.39 L668.12,601.49 L662.72,610.31 L657.48,618.88 L652.41,627.21 L647.48,635.31 L642.69,643.20 L638.04,650.89 L633.51,658.38 L629.11,665.68 L624.81,672.82 L620.63,679.78 L616.55,686.59 L612.57,693.24 L608.68,699.75 L604.89,706.12 L601.18,712.35 L597.55,718.46 L594.00,724.45 L590.53,730.31 L587.13,736.07 L583.80,741.71 L580.54,747.25 L577.34,752.69" stroke="#97602f" stroke-width="2.08" stroke-dasharray="2.08 3.44" fill="none"/>
<path d="M348.55,752.69 L1049.17,52.77" stroke="#000" stroke-width="1.39" fill="none"/>
<path d="M633.60,53.20 L625.10,61.30 L615.60,74.60 L592.90,106.70 L584.40,117.10 L575.00,133.10 L558.00,149.20 L537.20,163.30 L525.00,176.25 L500.00,206.10 L479.20,220.20 L463.20,234.40 L443.30,249.50 L417.80,263.30 L422.60,282.60 L432.00,307.10 L440.10,330.00 L447.10,350.80 L454.60,382.90 L464.10,409.30 L469.70,428.20 L471.60,437.70 L471.60,449.00 L475.40,461.30 L472.60,479.20 L471.80,488.90 L471.80,498.30 L473.70,509.70 L484.10,521.90 L488.50,532.90 L487.50,556.50 L489.40,567.30 L486.90,578.60 L482.20,589.90 L484.50,601.30 L493.60,618.90 L500.20,633.10 L499.20,643.40 L495.00,658.00 L490.70,671.80 L488.80,685.00 L490.20,698.20 L492.20,708.90 L494.40,712.80 L495.80,718.90 L497.60,723.10 L502.20,728.30 L507.80,733.90 L512.20,737.60 L516.70,739.70" stroke="#f00" stroke-width="2.78" stroke-linejoin="round" fill="none"/>
<path d="M484.90,53.20 L471.70,70.80 L443.30,107.60 L424.40,133.10 L381.90,177.80 L360.00,191.25 L342.30,206.60 L367.80,220.20 L384.80,236.30 L395.70,249.50 L382.50,263.70 L386.70,276.90 L395.20,295.80 L407.40,318.40 L412.10,330.00 L417.80,345.10 L424.70,375.30 L431.40,405.60 L434.80,426.30 L434.80,437.70 L432.50,449.00 L435.90,470.00 L436.30,486.10 L430.30,498.00 L407.60,509.70 L391.60,521.00 L386.30,532.90 L419.90,556.50 L393.40,567.30 L380.20,578.60 L404.80,589.90 L418.90,601.30 L417.60,611.30 L410.40,622.70 L393.40,633.10 L364.20,641.90 L365.10,651.00 L368.75,661.00 L375.50,675.60 L387.80,687.80 L401.00,697.80 L437.80,708.40 L444.40,713.90 L456.70,718.30 L463.90,723.40 L460.60,728.30 L447.90,737.70 L447.30,740.60" stroke="#00f" stroke-width="2.78" stroke-linejoin="round" fill="none"/>
</g>
<rect x="74.5" y="53.5" width="583.00" height="700.00" fill="none" stroke="#000" stroke-width="1"/><path d="M69.00,53.50 H74.20 M69.00,173.50 H74.20 M69.00,259.50 H74.20 M69.00,326.50 H74.20 M69.00,380.50 H74.20 M69.00,426.50 H74.20 M69.00,465.50 H74.20 M69.00,500.50 H74.20 M69.00,532.50 H74.20 M69.00,560.50 H74.20 M69.00,586.50 H74.20 M69.00,610.50 H74.20 M69.00,632.50 H74.20 M69.00,653.50 H74.20 M69.00,672.50 H74.20 M69.00,690.50 H74.20 M69.00,707.50 H74.20 M69.00,723.50 H74.20 M69.00,738.50 H74.20 M69.00,753.50 H74.20 M74.50,752.69 V759.00 M143.50,752.69 V759.00 M211.50,752.69 V759.00 M280.50,752.69 V759.00 M349.50,752.69 V759.00 M417.50,752.69 V759.00 M486.50,752.69 V759.00 M554.50,752.69 V759.00 M623.50,752.69 V759.00 M657.20,53.50 H663.00 M657.20,173.50 H663.00 M657.20,259.50 H663.00 M657.20,326.50 H663.00 M657.20,380.50 H663.00 M657.20,465.50 H663.00 M657.20,532.50 H663.00 M657.20,632.50 H663.00 M657.20,690.50 H663.00 M657.20,715.50 H663.00 M657.20,738.50 H663.00" stroke="#000" stroke-width="1" fill="none"/>
<path d="M756.30,75.50 L731.85,80.70 M731.85,80.70 L726.71,71.57 M734.90,80.05 L729.77,70.92 M756.30,173.40 L732.52,181.13 M732.52,181.13 L726.46,172.58 M735.50,180.16 L729.43,171.61 M738.47,179.19 L732.41,170.65 M756.30,258.90 L732.66,267.04 M732.66,267.04 L726.45,258.60 M735.62,266.02 L729.41,257.58 M738.57,265.00 L732.36,256.57 M741.53,263.99 L735.32,255.55 M756.30,325.70 L733.29,335.47 M733.29,335.47 L726.50,327.48 M736.16,334.25 L729.38,326.26 M739.04,333.03 L732.26,325.04 M756.30,379.60 L733.46,389.77 M733.46,389.77 L726.54,381.90 M736.32,388.50 L729.39,380.63 M739.17,387.23 L735.71,383.29 M756.30,465.60 L736.60,480.99 M736.60,480.99 L727.98,475.04 M739.06,479.07 L730.44,473.11 M756.30,532.20 L733.64,542.77 M733.64,542.77 L726.58,535.02 M736.47,541.44 L732.95,537.57 M756.30,632.20 L732.15,638.67 M736.68,637.46 L733.88,633.03 M756.30,715.30 L749.41,739.33 M750.70,734.83 L745.46,734.95" stroke="#000" stroke-width="1.65" stroke-linecap="square" fill="none" stroke-linejoin="miter"/><g stroke="#000" stroke-width="1.75" fill="none"><circle cx="756.10" cy="689.80" r="3.9"/><circle cx="756.10" cy="738.20" r="3.9"/></g>
<g>
<text x="64.18" y="59.00" font-size="14.2" text-anchor="end" textLength="24.43" lengthAdjust="spacingAndGlyphs" fill="#000">100</text>
<text x="64.18" y="179.00" font-size="14.2" text-anchor="end" textLength="24.43" lengthAdjust="spacingAndGlyphs" fill="#000">150</text>
<text x="64.18" y="265.00" font-size="14.2" text-anchor="end" textLength="24.43" lengthAdjust="spacingAndGlyphs" fill="#000">200</text>
<text x="64.18" y="332.00" font-size="14.2" text-anchor="end" textLength="24.43" lengthAdjust="spacingAndGlyphs" fill="#000">250</text>
<text x="64.18" y="386.00" font-size="14.2" text-anchor="end" textLength="24.43" lengthAdjust="spacingAndGlyphs" fill="#000">300</text>
<text x="64.18" y="432.00" font-size="14.2" text-anchor="end" textLength="24.43" lengthAdjust="spacingAndGlyphs" fill="#000">350</text>
<text x="64.18" y="471.00" font-size="14.2" text-anchor="end" textLength="24.43" lengthAdjust="spacingAndGlyphs" fill="#000">400</text>
<text x="64.18" y="506.00" font-size="14.2" text-anchor="end" textLength="24.43" lengthAdjust="spacingAndGlyphs" fill="#000">450</text>
<text x="64.18" y="538.00" font-size="14.2" text-anchor="end" textLength="24.43" lengthAdjust="spacingAndGlyphs" fill="#000">500</text>
<text x="64.18" y="566.00" font-size="14.2" text-anchor="end" textLength="24.43" lengthAdjust="spacingAndGlyphs" fill="#000">550</text>
<text x="64.18" y="592.00" font-size="14.2" text-anchor="end" textLength="24.43" lengthAdjust="spacingAndGlyphs" fill="#000">600</text>
<text x="64.18" y="616.00" font-size="14.2" text-anchor="end" textLength="24.43" lengthAdjust="spacingAndGlyphs" fill="#000">650</text>
<text x="64.18" y="638.00" font-size="14.2" text-anchor="end" textLength="24.43" lengthAdjust="spacingAndGlyphs" fill="#000">700</text>
<text x="64.18" y="659.00" font-size="14.2" text-anchor="end" textLength="24.43" lengthAdjust="spacingAndGlyphs" fill="#000">750</text>
<text x="64.18" y="678.00" font-size="14.2" text-anchor="end" textLength="24.43" lengthAdjust="spacingAndGlyphs" fill="#000">800</text>
<text x="64.18" y="696.00" font-size="14.2" text-anchor="end" textLength="24.43" lengthAdjust="spacingAndGlyphs" fill="#000">850</text>
<text x="64.18" y="713.00" font-size="14.2" text-anchor="end" textLength="24.43" lengthAdjust="spacingAndGlyphs" fill="#000">900</text>
<text x="64.18" y="729.00" font-size="14.2" text-anchor="end" textLength="24.43" lengthAdjust="spacingAndGlyphs" fill="#000">950</text>
<text x="64.18" y="744.00" font-size="14.2" text-anchor="end" textLength="33.26" lengthAdjust="spacingAndGlyphs" fill="#000">1000</text>
<text x="64.18" y="759.00" font-size="14.2" text-anchor="end" textLength="33.26" lengthAdjust="spacingAndGlyphs" fill="#000">1050</text>
<text x="74.20" y="774.00" font-size="14.2" text-anchor="middle" textLength="27.23" lengthAdjust="spacingAndGlyphs" fill="#000">−40</text>
<text x="142.79" y="774.00" font-size="14.2" text-anchor="middle" textLength="27.23" lengthAdjust="spacingAndGlyphs" fill="#000">−30</text>
<text x="211.38" y="774.00" font-size="14.2" text-anchor="middle" textLength="27.23" lengthAdjust="spacingAndGlyphs" fill="#000">−20</text>
<text x="279.96" y="774.00" font-size="14.2" text-anchor="middle" textLength="27.23" lengthAdjust="spacingAndGlyphs" fill="#000">−10</text>
<text x="348.55" y="774.00" font-size="14.2" text-anchor="middle" textLength="6.75" lengthAdjust="spacingAndGlyphs" fill="#000">0</text>
<text x="417.14" y="774.00" font-size="14.2" text-anchor="middle" textLength="15.59" lengthAdjust="spacingAndGlyphs" fill="#000">10</text>
<text x="485.73" y="774.00" font-size="14.2" text-anchor="middle" textLength="15.59" lengthAdjust="spacingAndGlyphs" fill="#000">20</text>
<text x="554.32" y="774.00" font-size="14.2" text-anchor="middle" textLength="15.59" lengthAdjust="spacingAndGlyphs" fill="#000">30</text>
<text x="622.91" y="774.00" font-size="14.2" text-anchor="middle" textLength="15.59" lengthAdjust="spacingAndGlyphs" fill="#000">40</text>
<text x="667.55" y="59.00" font-size="14.2" text-anchor="start" textLength="42.10" lengthAdjust="spacingAndGlyphs" fill="#000">16432</text>
<text x="667.55" y="179.00" font-size="14.2" text-anchor="start" textLength="42.10" lengthAdjust="spacingAndGlyphs" fill="#000">13902</text>
<text x="667.55" y="265.00" font-size="14.2" text-anchor="start" textLength="42.10" lengthAdjust="spacingAndGlyphs" fill="#000">12095</text>
<text x="667.55" y="332.00" font-size="14.2" text-anchor="start" textLength="42.10" lengthAdjust="spacingAndGlyphs" fill="#000">10672</text>
<text x="667.55" y="386.00" font-size="14.2" text-anchor="start" textLength="33.26" lengthAdjust="spacingAndGlyphs" fill="#000">9455</text>
<text x="667.55" y="471.00" font-size="14.2" text-anchor="start" textLength="33.26" lengthAdjust="spacingAndGlyphs" fill="#000">7411</text>
<text x="667.55" y="538.00" font-size="14.2" text-anchor="start" textLength="33.26" lengthAdjust="spacingAndGlyphs" fill="#000">5751</text>
<text x="667.55" y="638.00" font-size="14.2" text-anchor="start" textLength="33.26" lengthAdjust="spacingAndGlyphs" fill="#000">3101</text>
<text x="667.55" y="696.00" font-size="14.2" text-anchor="start" textLength="33.26" lengthAdjust="spacingAndGlyphs" fill="#000">1505</text>
<text x="667.55" y="721.00" font-size="14.2" text-anchor="start" textLength="24.43" lengthAdjust="spacingAndGlyphs" fill="#000">792</text>
<text x="667.55" y="744.00" font-size="14.2" text-anchor="start" textLength="24.43" lengthAdjust="spacingAndGlyphs" fill="#000">123</text>
<text x="366.95" y="24.00" font-size="17.5" text-anchor="middle" textLength="474.69" lengthAdjust="spacingAndGlyphs" fill="#000">Прогноз T и Td на 17.09.25 - 15 час местного времени</text>
<text x="366.95" y="45.00" font-size="17.5" text-anchor="middle" textLength="531.96" lengthAdjust="spacingAndGlyphs" fill="#000">Пункт Севастополь (33991) 44.62 с.ш. 33.53 в.д.; высота 6 м</text>
<text x="366.15" y="793.00" font-size="14.6" text-anchor="middle" textLength="127.30" lengthAdjust="spacingAndGlyphs" fill="#000">Температура (°C)</text>
<text x="0.00" y="0.00" font-size="14.6" text-anchor="middle" textLength="112.43" lengthAdjust="spacingAndGlyphs" fill="#000" transform="translate(21.2,403.23) rotate(-90)">Давление (гПа)</text>
<text x="0.00" y="0.00" font-size="14.6" text-anchor="middle" textLength="96.14" lengthAdjust="spacingAndGlyphs" fill="#000" transform="translate(726.3,403.23) rotate(-90)">Высота (гпм)</text>
<text x="797.45" y="77.00" font-size="14.6" text-anchor="start" textLength="92.90" lengthAdjust="spacingAndGlyphs" fill="#808080">258° (19 м/с)</text>
<text x="797.45" y="174.00" font-size="14.6" text-anchor="start" textLength="92.90" lengthAdjust="spacingAndGlyphs" fill="#808080">252° (30 м/с)</text>
<text x="797.45" y="260.00" font-size="14.6" text-anchor="start" textLength="92.90" lengthAdjust="spacingAndGlyphs" fill="#808080">251° (41 м/с)</text>
<text x="797.45" y="326.00" font-size="14.6" text-anchor="start" textLength="92.90" lengthAdjust="spacingAndGlyphs" fill="#808080">247° (29 м/с)</text>
<text x="797.45" y="381.00" font-size="14.6" text-anchor="start" textLength="92.90" lengthAdjust="spacingAndGlyphs" fill="#808080">246° (24 м/с)</text>
<text x="797.45" y="466.00" font-size="14.6" text-anchor="start" textLength="92.90" lengthAdjust="spacingAndGlyphs" fill="#808080">232° (21 м/с)</text>
<text x="797.45" y="533.00" font-size="14.6" text-anchor="start" textLength="92.90" lengthAdjust="spacingAndGlyphs" fill="#808080">245° (14 м/с)</text>
<text x="797.45" y="633.00" font-size="14.6" text-anchor="start" textLength="84.06" lengthAdjust="spacingAndGlyphs" fill="#808080">255° (5 м/с)</text>
<text x="797.45" y="691.00" font-size="14.6" text-anchor="start" textLength="84.06" lengthAdjust="spacingAndGlyphs" fill="#808080">200° (2 м/с)</text>
<text x="797.45" y="716.00" font-size="14.6" text-anchor="start" textLength="84.06" lengthAdjust="spacingAndGlyphs" fill="#808080">196° (3 м/с)</text>
<text x="797.45" y="739.50" font-size="14.6" text-anchor="start" textLength="84.06" lengthAdjust="spacingAndGlyphs" fill="#808080">211° (2 м/с)</text>
</g>
</svg>
</body></html>
